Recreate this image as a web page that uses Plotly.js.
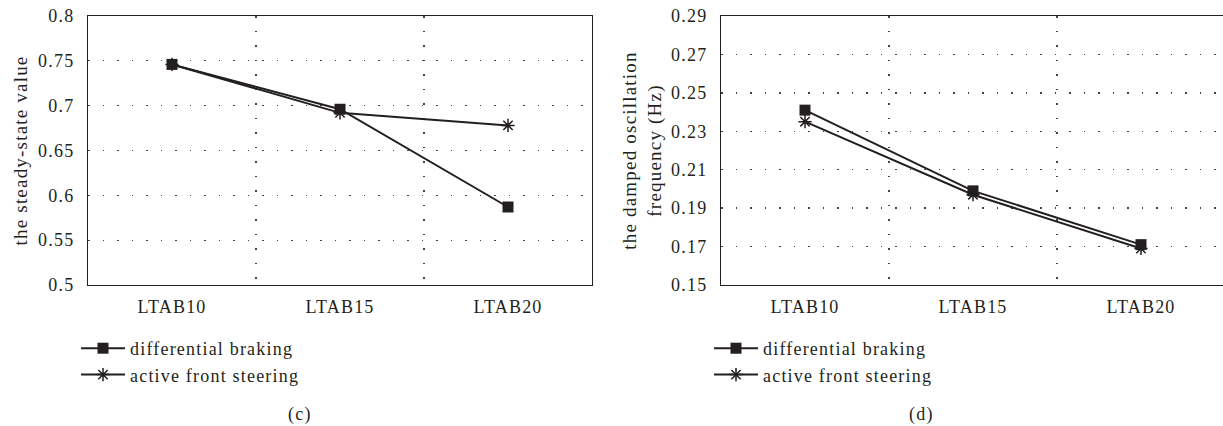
<!DOCTYPE html>
<html>
<head>
<meta charset="utf-8">
<script src="https://cdn.plot.ly/plotly-3.0.1.min.js"></script>
<style>
html,body{margin:0;padding:0;overflow:hidden;background:#fff;width:1223px;height:426px;}
#chart{width:1226px;height:426px;}
svg text{letter-spacing:1.2px;}
</style>
</head>
<body>
<div id="chart"></div>
<script>
const categories = ["LTAB10", "LTAB15", "LTAB20"];
const seriesNames = ["differential braking", "active front steering"];
// (c) steady-state value
const steadyBraking = [0.746, 0.696, 0.587];
const steadySteering = [0.746, 0.692, 0.678];
// (d) damped oscillation frequency (Hz)
const freqBraking = [0.241, 0.199, 0.171];
const freqSteering = [0.235, 0.197, 0.169];
const steadyTicks = [0.5, 0.55, 0.6, 0.65, 0.7, 0.75, 0.8];
const steadyTickText = ["0.5", "0.55", "0.6", "0.65", "0.7", "0.75", "0.8"];
const freqTicks = [0.15, 0.17, 0.19, 0.21, 0.23, 0.25, 0.27, 0.29];
const freqTickText = ["0.15", "0.17", "0.19", "0.21", "0.23", "0.25", "0.27", "0.29"];
const panelLabels = ["(c)", "(d)"];
const yTitles = ["the steady-state value", "the damped oscillation<br>frequency (Hz)"];

const ink = "#231f20";
const FONT = "Liberation Serif, Times New Roman, serif";
const W = 1226, H = 426;
const FS = 18;

function sqTrace(x, y, xa, ya, leg) {
  return {x: x, y: y, xaxis: xa, yaxis: ya, legend: leg, name: seriesNames[0], type: "scatter",
    mode: "lines+markers", line: {color: ink, width: 2},
    marker: {symbol: "square", size: 11, color: ink}};
}
function stTrace(x, y, xa, ya, leg) {
  return {x: x, y: y, xaxis: xa, yaxis: ya, legend: leg, name: seriesNames[1], type: "scatter",
    mode: "lines+markers", line: {color: ink, width: 2},
    marker: {symbol: "asterisk-open", size: 11, color: ink, line: {color: ink, width: 1.5}}};
}

const data = [
  sqTrace(categories, steadyBraking, "x", "y", "legend"),
  stTrace(categories, steadySteering, "x", "y", "legend"),
  sqTrace(categories, freqBraking, "x2", "y2", "legend2"),
  stTrace(categories, freqSteering, "x2", "y2", "legend2")
];

const yDom = [1 - 285 / H, 1 - 16 / H];
const gridDash = "1.5px,13px";
function xAxis(dom, anchor) {
  return {domain: dom, anchor: anchor, type: "category", range: [-0.5, 2.5],
    showline: true, mirror: true, linecolor: ink, linewidth: 1,
    showgrid: true, tickson: "boundaries", gridcolor: "#444", griddash: gridDash, gridwidth: 1.3,
    ticks: "", ticklabelstandoff: 5, tickfont: {family: FONT, size: FS, color: ink},
    zeroline: false, fixedrange: true};
}
function yAxis(dom, anchor, range, tv, tt, title, standoff) {
  return {domain: dom, anchor: anchor, range: range, tickvals: tv, ticktext: tt,
    showline: true, mirror: true, linecolor: ink, linewidth: 1,
    showgrid: true, gridcolor: "#444", griddash: gridDash, gridwidth: 1.3,
    ticks: "", ticklabelstandoff: 9, tickfont: {family: FONT, size: FS, color: ink},
    zeroline: false, fixedrange: true,
    title: {text: title, font: {family: FONT, size: 19, color: ink}, standoff: standoff}};
}
function legendCfg(xpx) {
  return {x: xpx / W, y: 1 - 330 / H, xanchor: "left", yanchor: "top",
    font: {family: FONT, size: FS, color: ink}, bgcolor: "rgba(0,0,0,0)",
    itemwidth: 44, tracegroupgap: 0};
}

const layout = {
  width: W, height: H,
  margin: {l: 0, r: 0, t: 0, b: 0},
  paper_bgcolor: "#fff", plot_bgcolor: "#fff",
  font: {family: FONT, color: ink},
  showlegend: true,
  xaxis: xAxis([88 / W, 592 / W], "y"),
  yaxis: yAxis(yDom, "x", [0.5, 0.8], steadyTicks, steadyTickText, yTitles[0], 5),
  xaxis2: xAxis([721 / W, 1225 / W], "y2"),
  yaxis2: yAxis(yDom, "x2", [0.15, 0.29], freqTicks, freqTickText, yTitles[1], 4),
  legend: legendCfg(76),
  legend2: legendCfg(709),
  annotations: [
    {text: panelLabels[0], x: 300 / W, y: 1 - 414 / H, xref: "paper", yref: "paper",
     xanchor: "center", yanchor: "middle",
     showarrow: false, font: {family: FONT, size: FS, color: ink}},
    {text: panelLabels[1], x: 921 / W, y: 1 - 414 / H, xref: "paper", yref: "paper",
     xanchor: "center", yanchor: "middle",
     showarrow: false, font: {family: FONT, size: FS, color: ink}}
  ]
};

Plotly.newPlot("chart", data, layout, {displayModeBar: false, staticPlot: true});
</script>
</body>
</html>
